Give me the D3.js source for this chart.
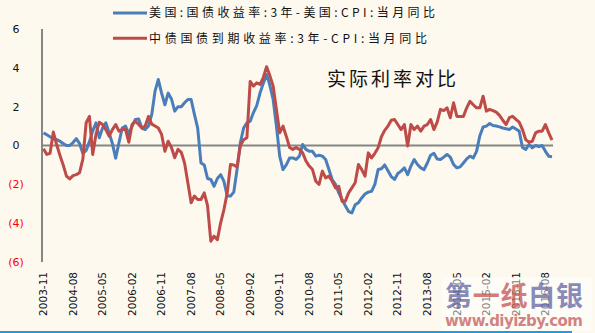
<!DOCTYPE html>
<html>
<head>
<meta charset="utf-8">
<script src="https://cdn.jsdelivr.net/npm/d3@7"></script>
<style>
  body { margin: 0; background: #fdf9ef; }
  svg { display: block; }
  .tick-x { font: 10.5px "DejaVu Sans", sans-serif; fill: #111; }
  .tick-y { font: 11px "DejaVu Sans", sans-serif; }
  .lgd { font: 12px "Noto Sans CJK SC", sans-serif; fill: #111; }
</style>
</head>
<body>
<svg id="chart"></svg>
<script>
// Data, monthly from 2003-11
const startYear = 2003, startMonth = 11
const usReal = [0.65,0.55,0.45,0.35,0.3,0.22,0.1,0,0,0.15,0.35,0.1,-0.41,-0.25,0.2,0.74,1.17,0.4,0.9,1.17,
  0.65,0.1,-0.65,0.14,0.9,1,0.6,1,1.34,1.37,0.9,0.82,1,1.6,2.8,3.4,2.7,2.1,2.7,2.4,
  1.77,2,2,2.2,2.37,2.37,1.6,0.9,-0.9,-1,-1.7,-1.75,-2.1,-1.7,-1.5,-1.85,-2.6,-2.6,-2.4,-1.24,
  0.14,0.9,1.17,1.25,1.7,2.05,2.7,3.2,3.66,3.1,2.37,1,-0.55,-1.24,-1,-0.65,-0.64,-0.72,-0.55,0.05,
  -0.2,-0.3,-0.3,-0.55,-0.5,-0.55,-0.72,-1.24,-1.75,-2,-2.44,-2.78,-3.1,-3.4,-3.47,-3.05,-2.95,-2.7,-2.5,-2.4,
  -2.36,-2,-1.24,-1.2,-1,-1.3,-1.6,-1.75,-1.44,-1.32,-1.15,-1.5,-1.06,-0.72,-0.98,-1.15,-1.24,-0.9,-0.5,-0.4,
  -0.7,-0.72,-0.6,-0.46,-0.6,-0.98,-1.15,-1.1,-0.9,-0.69,-0.55,-0.64,-0.3,0.5,0.95,1,1.13,1.03,1,0.96,
  0.9,0.86,0.82,0.95,0.85,0.74,-0.1,-0.2,0.05,-0.12,0,-0.05,0,-0.3,-0.55,-0.58]
const cnReal = [-0.17,-0.46,-0.4,0.69,0.05,-0.5,-1,-1.58,-1.72,-1.55,-1.5,-1.4,-0.7,1.17,1.5,-0.46,0.57,1.2,1.08,0.82,
  0.48,0.82,1.08,0.74,0.82,0.82,0.17,1.08,1.25,1.08,0.9,1,1.5,1.1,1,0.9,0.57,-0.3,0.22,-0.1,
  -0.63,-0.2,-0.35,-0.9,-1.92,-2.95,-2.6,-2.78,-2.78,-2.44,-3.1,-4.93,-4.67,-4.85,-3.98,-3.3,-2.44,-0.98,-1,-1.1,
  0,0.3,0.4,3.3,3.06,3.23,3.15,3.5,4.06,3.6,3.06,1.86,0.65,1,0.48,-0.1,-0.2,-0.1,-0.2,-0.38,
  -0.8,-1.06,-1.24,-1.84,-2,-1.32,-1.67,-1.58,-1.84,-2.18,-2.1,-2.87,-2.87,-2.44,-2.18,-1.92,-0.98,-1.24,-1.58,-0.38,
  -0.64,-0.4,-0.12,0.45,0.78,1,1.3,1.34,1.08,0.82,1.08,-0.03,1.08,0.82,1,0.74,1,1.08,1.34,0.82,
  1.2,1.86,1.8,1.94,1.43,2.2,1.5,1.5,1.5,1.94,2.28,2.1,1.94,1.94,2.54,1.77,1.86,1.8,1.72,1.55,
  1.3,1.08,1.43,1.5,1.35,1.2,0.82,0.3,0.17,0.22,0.65,0.74,0.74,1.08,0.65,0.28]
const yTicks = [6, 4, 2, 0, -2, -4, -6]
const legendNames = ['美国:国债收益率:3年-美国:CPI:当月同比', '中债国债到期收益率:3年-CPI:当月同比']
const colors = ['#4a7ebb', '#be4b48']
const title = '实际利率对比'

const months = usReal.map((d, i) => {
  let m = startMonth - 1 + i
  return `${startYear + Math.floor(m / 12)}-${String(m % 12 + 1).padStart(2, '0')}`
})

const W = 595, H = 333
const svg = d3.select('#chart').attr('width', W).attr('height', H)
svg.append('rect').attr('width', W).attr('height', H).attr('fill', '#fdf9ef')

const x = d3.scalePoint().domain(months).range([43.5, 552])
const y = d3.scaleLinear().domain([-6, 6]).range([262, 29])

/* Axes */
svg.append('line').attr('x1', 42).attr('x2', 42).attr('y1', y(6)).attr('y2', y(-6))
  .attr('stroke', '#868686').attr('stroke-width', 2)
svg.append('line').attr('x1', 42).attr('x2', 553).attr('y1', y(0)).attr('y2', y(0))
  .attr('stroke', '#868686').attr('stroke-width', 2)

svg.selectAll('.tick-y').data(yTicks).enter()
  .append('text')
  .attr('class', 'tick-y')
  .attr('x', 16).attr('y', d => y(d)).attr('dy', '0.35em')
  .attr('text-anchor', 'middle')
  .attr('fill', d => d < 0 ? '#ff0000' : '#111')
  .text(d => d < 0 ? `(${-d})` : d)

svg.selectAll('.tick-x').data(months.filter((d, i) => i % 9 === 0)).enter()
  .append('text')
  .attr('class', 'tick-x')
  .attr('transform', d => `translate(${x(d)},272) rotate(-90)`)
  .attr('dy', '0.35em')
  .attr('text-anchor', 'end')
  .text(d => d)

/* Lines */
const line = d3.line().x((d, i) => x(months[i])).y(d => y(d))
;[usReal, cnReal].forEach((s, k) => {
  svg.append('path').datum(s)
    .attr('d', line)
    .attr('fill', 'none')
    .attr('stroke', colors[k])
    .attr('stroke-width', 3)
    .attr('stroke-linejoin', 'round')
})

/* Legend */
legendNames.forEach((n, k) => {
  let ly = 13 + k * 25.3
  svg.append('line').attr('x1', 113).attr('x2', 147).attr('y1', ly).attr('y2', ly)
    .attr('stroke', colors[k]).attr('stroke-width', 3)
  svg.append('text').attr('class', 'lgd')
    .attr('x', 149).attr('y', ly).attr('dy', '0.36em')
    .attr('textLength', k ? 278 : 286).attr('lengthAdjust', 'spacing')
    .text(n)
})

svg.append('text')
  .attr('x', 327).attr('y', 79).attr('dy', '0.36em')
  .attr('textLength', 129).attr('lengthAdjust', 'spacing')
  .style('font', '19px "Noto Sans CJK SC", sans-serif').attr('fill', '#111')
  .text(title)

/* Bottom border + watermark */
svg.append('line').attr('x1', 0).attr('x2', 572).attr('y1', 332).attr('y2', 332)
  .attr('stroke', '#1aa0e0').attr('stroke-width', 2)
svg.append('rect').attr('x', 442).attr('y', 277).attr('width', 150).attr('height', 54)
  .attr('fill', '#fff').attr('opacity', 0.45)
const wm = svg.append('text').attr('x', 445).attr('y', 306)
  .attr('textLength', 138).attr('lengthAdjust', 'spacing')
  .style('font', 'bold 27px "Noto Sans CJK SC", sans-serif').attr('opacity', 0.7)
;[['第', '#5a5aa0'], ['一', '#c04848'], ['纸', '#c04848'], ['白银', '#5a5aa0']].forEach(([t, c]) =>
  wm.append('tspan').attr('fill', c).text(t))
svg.append('text').attr('x', 445).attr('y', 326)
  .attr('textLength', 138).attr('lengthAdjust', 'spacing')
  .style('font', 'bold 15px "DejaVu Sans", sans-serif').attr('fill', '#c05050').attr('opacity', 0.7)
  .text('www.diyizby.com')
</script>
</body>
</html>
